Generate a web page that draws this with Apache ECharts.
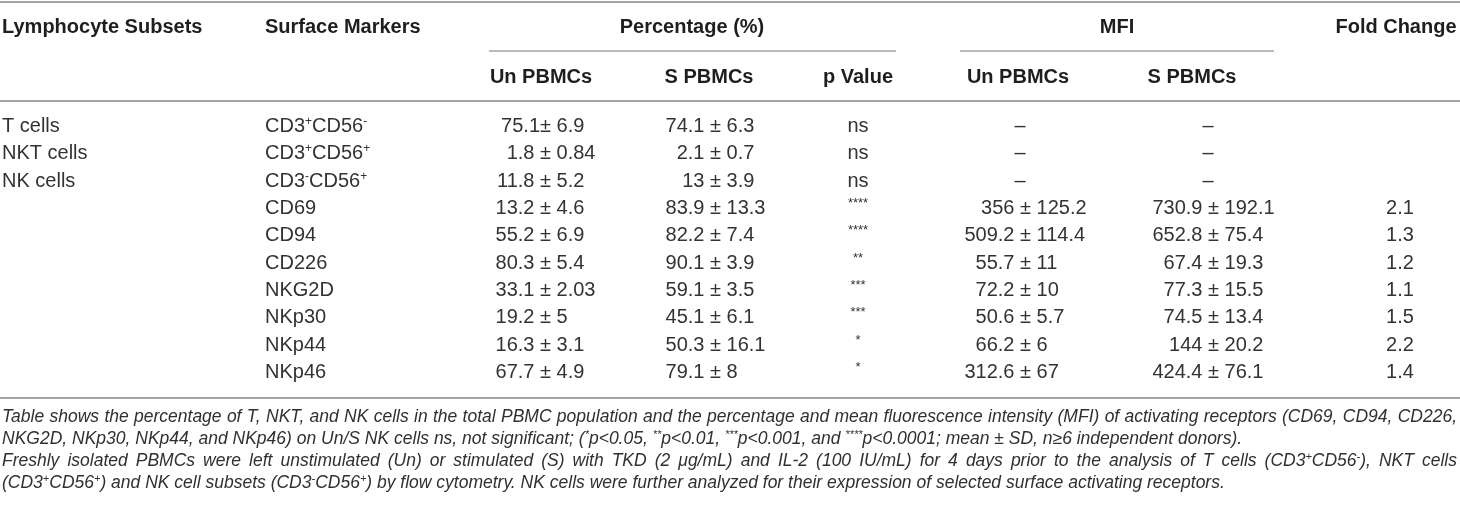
<!DOCTYPE html>
<html>
<head>
<meta charset="utf-8">
<script src="https://cdn.jsdelivr.net/npm/echarts@6/dist/echarts.min.js"></script>
<style>
  html, body { margin: 0; padding: 0; background: #fff; }
  #main { width: 1460px; height: 507px; }
</style>
</head>
<body>
<div id="main"></div>
<script>
// table content ('^' marks a superscript run)
const subsets = ['T cells', 'NKT cells', 'NK cells', '', '', '', '', '', '', ''];
const markers = ['CD3^+CD56^-', 'CD3^+CD56^+', 'CD3^-CD56^+', 'CD69', 'CD94', 'CD226', 'NKG2D', 'NKp30', 'NKp44', 'NKp46'];
const unPct = ['75.1± 6.9', '1.8 ± 0.84', '11.8 ± 5.2', '13.2 ± 4.6', '55.2 ± 6.9', '80.3 ± 5.4', '33.1 ± 2.03', '19.2 ± 5', '16.3 ± 3.1', '67.7 ± 4.9'];
const sPct = ['74.1 ± 6.3', '2.1 ± 0.7', '13 ± 3.9', '83.9 ± 13.3', '82.2 ± 7.4', '90.1 ± 3.9', '59.1 ± 3.5', '45.1 ± 6.1', '50.3 ± 16.1', '79.1 ± 8'];
const pValues = ['ns', 'ns', 'ns', '****', '****', '**', '***', '***', '*', '*'];
const unMfi = ['–', '–', '–', '356 ± 125.2', '509.2 ± 114.4', '55.7 ± 11', '72.2 ± 10', '50.6 ± 5.7', '66.2 ± 6', '312.6 ± 67'];
const sMfi = ['–', '–', '–', '730.9 ± 192.1', '652.8 ± 75.4', '67.4 ± 19.3', '77.3 ± 15.5', '74.5 ± 13.4', '144 ± 20.2', '424.4 ± 76.1'];
const foldChange = ['', '', '', '2.1', '1.3', '1.2', '1.1', '1.5', '2.2', '1.4'];

const headTop = ['Lymphocyte Subsets', 'Surface Markers', 'Percentage (%)', 'MFI', 'Fold Change'];
const headSub = ['Un PBMCs', 'S PBMCs', 'p Value', 'Un PBMCs', 'S PBMCs'];

const footnote = [
  'Table shows the percentage of T, NKT, and NK cells in the total PBMC population and the percentage and mean fluorescence intensity (MFI) of activating receptors (CD69, CD94, CD226,',
  'NKG2D, NKp30, NKp44, and NKp46) on Un/S NK cells ns, not significant; (^*p<0.05, ^**p<0.01, ^***p<0.001, and ^****p<0.0001; mean ± SD, n≥6 independent donors).',
  'Freshly isolated PBMCs were left unstimulated (Un) or stimulated (S) with TKD (2 μg/mL) and IL-2 (100 IU/mL) for 4 days prior to the analysis of T cells (CD3^+CD56^-), NKT cells',
  '(CD3^+CD56^+) and NK cell subsets (CD3^-CD56^+) by flow cytometry. NK cells were further analyzed for their expression of selected surface activating receptors.'
];
const footJustify = [true, false, true, false];

// layout
const FONT = '"Liberation Sans", Arial, Helvetica, sans-serif';
const W = 1460;
const RULE = '#a3a3a3';
const INK = '#1e1e1e';
const BODY = '#333';
const colX = { subset: 2, marker: 265, unPct: 540, sPct: 710, pVal: 858, unMfi: 1020, sMfi: 1208, fold: 1400 };

const supStyle = { s: { fontSize: 12, verticalAlign: 'top', fill: BODY } };
const toRich = s => s.replace(/\^([*+\-]+)/g, '{s|$1}');

function text(x, y, str, align, extra) {
  return {
    type: 'text', x: x, y: y, silent: true,
    style: Object.assign({
      text: str, textAlign: align, align: align,
      textVerticalAlign: 'middle', verticalAlign: 'middle',
      fontFamily: FONT, fontSize: 20, fill: BODY
    }, extra || {})
  };
}

// one custom series per column, placed through the hidden axes
function column(texts, x, kind) {
  return {
    type: 'custom',
    coordinateSystem: 'cartesian2d',
    silent: true,
    animation: false,
    data: texts.map((t, i) => [x, i]),
    renderItem: function (params, api) {
      const t = texts[params.dataIndex];
      const p = api.coord([api.value(0), api.value(1)]);
      if (!t) return null;
      if (kind === 'left') {
        return text(p[0], p[1], toRich(t), 'left', { rich: supStyle, lineHeight: 22 });
      }
      if (kind === 'stars') {
        if (t === 'ns') return text(p[0], p[1], t, 'center');
        return text(p[0], p[1] - 5, t, 'center', { fontSize: 13 });
      }
      const k = t.indexOf('±');
      if (k < 0) return text(p[0], p[1], t, 'center');
      return {
        type: 'group',
        children: [
          text(p[0], p[1], t.slice(0, k), 'right'),
          text(p[0], p[1], t.slice(k), 'left')
        ]
      };
    }
  };
}

// footnote: justified lines, laid out word by word
const ctx = document.createElement('canvas').getContext('2d');
function segs(word) {
  const out = [], re = /\^([*+\-]+)/g;
  let last = 0, m;
  while ((m = re.exec(word))) {
    if (m.index > last) out.push({ t: word.slice(last, m.index), sup: false });
    out.push({ t: m[1], sup: true });
    last = re.lastIndex;
  }
  if (last < word.length) out.push({ t: word.slice(last), sup: false });
  return out;
}
function measure(word, size) {
  return segs(word).reduce((w, s) => {
    ctx.font = 'italic ' + (s.sup ? Math.round(size * 0.65) : size) + 'px ' + FONT;
    return w + ctx.measureText(s.t).width;
  }, 0);
}
const footLeft = 2, footRight = 1457, footY = [417, 439, 461, 483];
let footSize = 19;
while (footSize > 12) {
  ctx.font = 'italic ' + footSize + 'px ' + FONT;
  const sp = ctx.measureText(' ').width;
  const widest = Math.max.apply(null, footnote.map(l => {
    const ws = l.split(' ');
    return ws.reduce((a, w) => a + measure(w, footSize), 0) + sp * (ws.length - 1);
  }));
  if (widest <= footRight - footLeft) break;
  footSize -= 0.25;
}
const footEls = [];
footnote.forEach((line, li) => {
  const words = line.split(' ');
  const widths = words.map(w => measure(w, footSize));
  ctx.font = 'italic ' + footSize + 'px ' + FONT;
  const sum = widths.reduce((a, b) => a + b, 0);
  const gap = footJustify[li] ? (footRight - footLeft - sum) / (words.length - 1) : ctx.measureText(' ').width;
  let x = footLeft;
  words.forEach((w, wi) => {
    footEls.push(text(x, footY[li], toRich(w), 'left', {
      fontStyle: 'italic', fontSize: footSize, fill: '#303030', lineHeight: 20,
      rich: { s: { fontSize: Math.round(footSize * 0.65), fontStyle: 'italic', verticalAlign: 'top', fill: '#303030' } }
    }));
    x += widths[wi] + gap;
  });
});

function rule(x1, x2, y, lw) {
  return { type: 'line', silent: true, shape: { x1: x1, y1: y, x2: x2, y2: y }, style: { stroke: RULE, lineWidth: lw } };
}
const bold = { fontWeight: 'bold', fill: INK };
const graphics = [
  rule(0, W, 2, 2),
  rule(489, 896, 51, 1.3),
  rule(960, 1274, 51, 1.3),
  rule(0, W, 101, 2),
  rule(0, W, 398, 2),
  text(2, 27, headTop[0], 'left', bold),
  text(265, 27, headTop[1], 'left', bold),
  text(692, 27, headTop[2], 'center', bold),
  text(1117, 27, headTop[3], 'center', bold),
  text(1396, 27, headTop[4], 'center', bold),
  text(541, 77, headSub[0], 'center', bold),
  text(709, 77, headSub[1], 'center', bold),
  text(858, 77, headSub[2], 'center', bold),
  text(1018, 77, headSub[3], 'center', bold),
  text(1192, 77, headSub[4], 'center', bold)
].concat(footEls);

const chart = echarts.init(document.getElementById('main'));
chart.setOption({
  animation: false,
  grid: { left: 0, right: 0, top: 113, height: 273 },
  xAxis: { type: 'value', min: 0, max: W, show: false },
  yAxis: { type: 'category', inverse: true, data: markers, show: false },
  series: [
    column(subsets, colX.subset, 'left'),
    column(markers, colX.marker, 'left'),
    column(unPct, colX.unPct, 'pm'),
    column(sPct, colX.sPct, 'pm'),
    column(pValues, colX.pVal, 'stars'),
    column(unMfi, colX.unMfi, 'pm'),
    column(sMfi, colX.sMfi, 'pm'),
    column(foldChange, colX.fold, 'pm')
  ],
  graphic: { elements: graphics }
});
</script>
</body>
</html>
